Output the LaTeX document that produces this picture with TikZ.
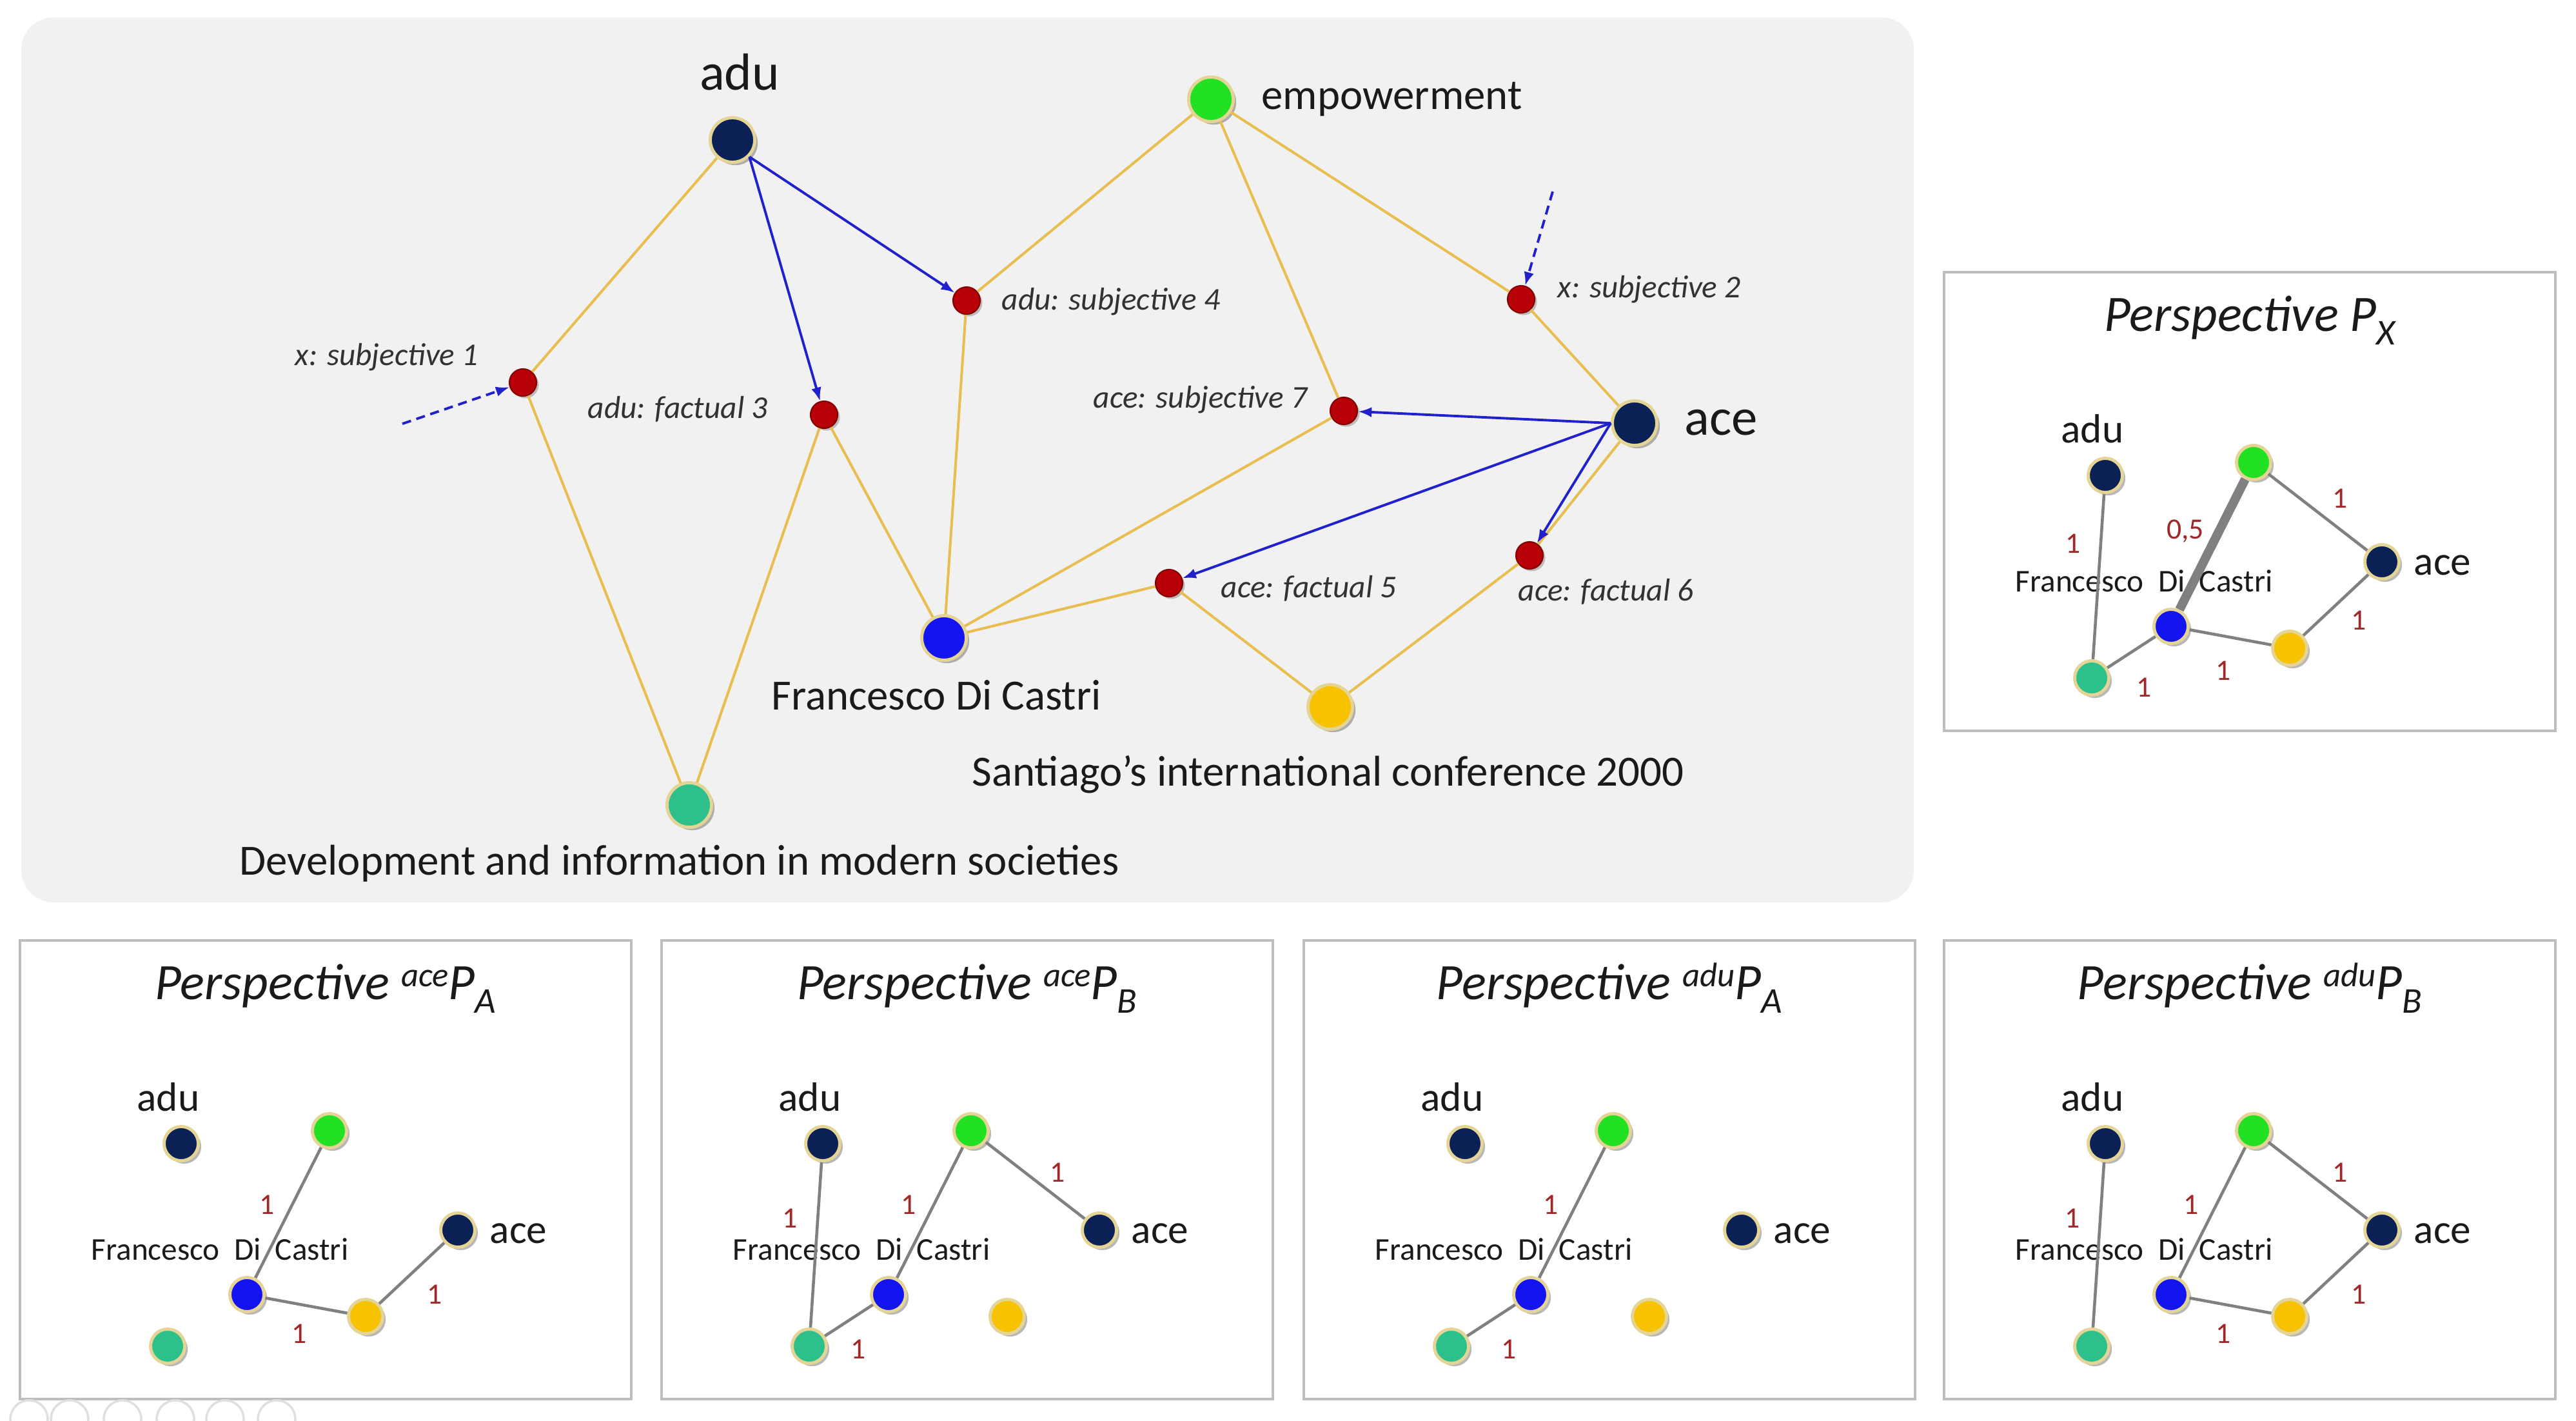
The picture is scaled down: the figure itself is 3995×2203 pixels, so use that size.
\documentclass[tikz,border=0pt]{standalone}
\usepackage{fontspec}
\setmainfont{Carlito}
\usetikzlibrary{arrows.meta,shadows}
\definecolor{navy}{RGB}{11,33,85}
\definecolor{greenn}{RGB}{34,224,34}
\definecolor{bluen}{RGB}{20,20,240}
\definecolor{ambern}{RGB}{247,194,0}
\definecolor{tealn}{RGB}{46,192,138}
\definecolor{redn}{RGB}{184,0,8}
\definecolor{redd}{RGB}{130,0,0}
\definecolor{outl}{RGB}{228,212,150}
\definecolor{edgey}{RGB}{232,190,80}
\definecolor{arrb}{RGB}{32,32,205}
\definecolor{grayedge}{RGB}{128,128,128}
\definecolor{labred}{RGB}{160,40,40}
\definecolor{panelbg}{RGB}{241,241,241}
\definecolor{boxline}{RGB}{190,190,190}
\definecolor{txt}{RGB}{26,26,26}
\definecolor{txttwo}{RGB}{50,50,50}
\newcommand\ptitle[2]{\textit{Perspective\ \raisebox{5.5pt}{\fontsize{15}{15}\selectfont\itshape #1}P\raisebox{-6pt}{\fontsize{16}{16}\selectfont\itshape #2}}}
\newcommand\mkpanel[4]{%
\begin{scope}[shift={(#2,#3)}]
\draw[boxst] (0,0) rectangle (948,711);
\node[titlef, anchor=base] (#1title) at (474,91) {#4};
\node[pn, fill=navy] (#1adu) at (250,315) {};
\node[pn, fill=greenn] (#1emp) at (480,295) {};
\node[pn, fill=navy] (#1ace) at (679,449) {};
\node[pn, fill=bluen] (#1fdc) at (352,549) {};
\node[pn, fill=ambern] (#1san) at (536,583) {};
\node[pn, fill=tealn] (#1dev) at (229,629) {};
\node[plab, anchor=base] (#1adut) at (230,264) {adu};
\node[plab, anchor=base west] (#1acet) at (728,469) {ace};
\node[pflab, anchor=base west] (#1fdct) at (110,495) {Francesco\ \ Di\ \ Castri};
\end{scope}}
\begin{document}
\begin{tikzpicture}[x=0.01cm,y=-0.01cm,
  nodebase/.style={circle, inner sep=0pt, draw=outl, line width=1.4pt,
    drop shadow={shadow xshift=1.3pt, shadow yshift=-1.3pt, opacity=0.28, fill=black}},
  big/.style={nodebase, minimum size=0.69cm},
  small/.style={circle, inner sep=0pt, minimum size=0.42cm, fill=redn, draw=redd, line width=0.6pt,
    drop shadow={shadow xshift=1pt, shadow yshift=-1pt, opacity=0.22, fill=black}},
  pn/.style={nodebase, minimum size=0.53cm},
  yedge/.style={draw=edgey, line width=1.15pt},
  barrow/.style={draw=arrb, line width=1.1pt, -{Latex[length=6pt,width=4.5pt]}},
  darrow/.style={barrow, dash pattern=on 4pt off 2.5pt},
  gedge/.style={draw=grayedge, line width=1.3pt},
  thickedge/.style={draw=grayedge, line width=4pt},
  elab/.style={text=labred, font=\fontsize{13}{15}\selectfont, inner sep=0pt},
  biglab/.style={font=\fontsize{23}{27}\selectfont, text=txt, inner sep=0pt},
  lab/.style={font=\fontsize{19}{23}\selectfont, text=txt, inner sep=0pt},
  ilab/.style={font=\fontsize{14}{17}\selectfont\itshape, text=txttwo, inner sep=0pt},
  titlef/.style={font=\fontsize{22.5}{26}\selectfont, text=txt, inner sep=0pt},
  plab/.style={font=\fontsize{18}{21}\selectfont, text=txt, inner sep=0pt},
  pflab/.style={font=\fontsize{14}{17}\selectfont, text=txt, inner sep=0pt},
  boxst/.style={draw=boxline, line width=1.4pt, fill=white},
  iconst/.style={draw=black!12, line width=1pt}
]
\useasboundingbox (0,0) rectangle (3995,2203);
\fill[white] (0,0) rectangle (3995,2203);
% main gray panel
\fill[panelbg, rounded corners=0.5cm] (33,27) rectangle (2968,1399);

% main nodes
\node[big, fill=navy] (adu) at (1136,217) {};
\node[big, fill=greenn] (emp) at (1878,154) {};
\node[big, fill=navy] (ace) at (2535,656) {};
\node[big, fill=bluen] (fdc) at (1464,989) {};
\node[big, fill=tealn] (dev) at (1069,1248) {};
\node[big, fill=ambern] (san) at (2063,1096) {};
\node[small] (xs1) at (811,593) {};
\node[small] (af3) at (1278,643) {};
\node[small] (as4) at (1499,466) {};
\node[small] (xs2) at (2359,464) {};
\node[small] (as7) at (2084,637) {};
\node[small] (af5) at (1813,904) {};
\node[small] (af6) at (2372,861) {};
\coordinate (c1) at (624,657);
\coordinate (c2) at (2408,297);

% main labels
\node[biglab, anchor=base] (adut) at (1147,140) {adu};
\node[lab, anchor=base west] (empt) at (1956,170) {empowerment};
\node[biglab, anchor=base west] (acet) at (2612,674) {ace};
\node[lab, anchor=base west] (fdct) at (1196,1100) {Francesco Di Castri};
\node[lab, anchor=base west] (devt) at (371,1356) {Development and information in modern societies};
\node[lab, anchor=base west] (sant) at (1507,1218) {Santiago’s international conference 2000};
\node[ilab, anchor=base west] (xs1t) at (457,566) {x: subjective 1};
\node[ilab, anchor=base west] (af3t) at (911,648) {adu: factual 3};
\node[ilab, anchor=base west] (as4t) at (1553,480) {adu: subjective 4};
\node[ilab, anchor=base west] (xs2t) at (2415,462) {x: subjective 2};
\node[ilab, anchor=base east] (as7t) at (2028,632) {ace: subjective 7};
\node[ilab, anchor=base west] (af5t) at (1893,926) {ace: factual 5};
\node[ilab, anchor=base west] (af6t) at (2354,931) {ace: factual 6};

% yellow edges
\draw[yedge] (adu) -- (xs1);
\draw[yedge] (xs1) -- (dev);
\draw[yedge] (dev) -- (af3);
\draw[yedge] (af3) -- (fdc);
\draw[yedge] (emp) -- (as4);
\draw[yedge] (as4) -- (fdc);
\draw[yedge] (emp) -- (as7);
\draw[yedge] (as7) -- (fdc);
\draw[yedge] (emp) -- (xs2);
\draw[yedge] (xs2) -- (ace);
\draw[yedge] (ace) -- (af6);
\draw[yedge] (af6) -- (san);
\draw[yedge] (san) -- (af5);
\draw[yedge] (af5) -- (fdc);
% blue arrows
\draw[barrow] (adu.south east) -- (as4);
\draw[barrow] (adu.south east) -- (af3);
\draw[barrow] (ace.west) -- (as7);
\draw[barrow] (ace.west) -- (af5);
\draw[barrow] (ace.west) -- (af6);
\draw[darrow] (c1) -- (xs1);
\draw[darrow] (c2) -- (xs2);

% panels
\mkpanel{px}{3015}{422}{\textit{Perspective P\raisebox{-6pt}{\fontsize{16}{16}\selectfont\itshape X}}}
\mkpanel{pa}{31}{1458}{\ptitle{ace}{A}}
\mkpanel{pb}{1026}{1458}{\ptitle{ace}{B}}
\mkpanel{pc}{2022}{1458}{\ptitle{adu}{A}}
\mkpanel{pd}{3015}{1458}{\ptitle{adu}{B}}

% panel P_X edges
\draw[gedge] (pxadu) -- (pxdev);
\draw[thickedge] (pxfdc) -- (pxemp);
\draw[gedge] (pxemp) -- (pxace);
\draw[gedge] (pxace) -- (pxsan);
\draw[gedge] (pxsan) -- (pxfdc);
\draw[gedge] (pxdev) -- (pxfdc);
\begin{scope}[shift={(3015,422)}]
\node[elab] (pxl1) at (200,421) {1};
\node[elab] (pxl2) at (374,402) {0,5};
\node[elab] (pxl3) at (614,351) {1};
\node[elab] (pxl4) at (643,540) {1};
\node[elab] (pxl5) at (433,618) {1};
\node[elab] (pxl6) at (310,644) {1};
\end{scope}

% panel aceP_A
\draw[gedge] (paemp) -- (pafdc);
\draw[gedge] (pafdc) -- (pasan);
\draw[gedge] (pasan) -- (paace);
\begin{scope}[shift={(31,1458)}]
\node[elab] (pal1) at (383,410) {1};
\node[elab] (pal2) at (433,610) {1};
\node[elab] (pal3) at (643,549) {1};
\end{scope}

% panel aceP_B
\draw[gedge] (pbadu) -- (pbdev);
\draw[gedge] (pbemp) -- (pbfdc);
\draw[gedge] (pbemp) -- (pbace);
\draw[gedge] (pbdev) -- (pbfdc);
\begin{scope}[shift={(1026,1458)}]
\node[elab] (pbl1) at (199,431) {1};
\node[elab] (pbl2) at (383,410) {1};
\node[elab] (pbl3) at (614,360) {1};
\node[elab] (pbl4) at (305,634) {1};
\end{scope}

% panel aduP_A
\draw[gedge] (pcemp) -- (pcfdc);
\draw[gedge] (pcdev) -- (pcfdc);
\begin{scope}[shift={(2022,1458)}]
\node[elab] (pcl1) at (383,410) {1};
\node[elab] (pcl2) at (318,634) {1};
\end{scope}

% panel aduP_B
\draw[gedge] (pdadu) -- (pddev);
\draw[gedge] (pdemp) -- (pdfdc);
\draw[gedge] (pdemp) -- (pdace);
\draw[gedge] (pdace) -- (pdsan);
\draw[gedge] (pdfdc) -- (pdsan);
\begin{scope}[shift={(3015,1458)}]
\node[elab] (pdl1) at (199,431) {1};
\node[elab] (pdl2) at (383,410) {1};
\node[elab] (pdl3) at (614,360) {1};
\node[elab] (pdl4) at (643,549) {1};
\node[elab] (pdl5) at (433,610) {1};
\end{scope}

% faint toolbar icons
\foreach \cx in {45,108,190,272,349,429} \draw[iconst] (\cx,2200) circle (29);
\end{tikzpicture}
\end{document}
